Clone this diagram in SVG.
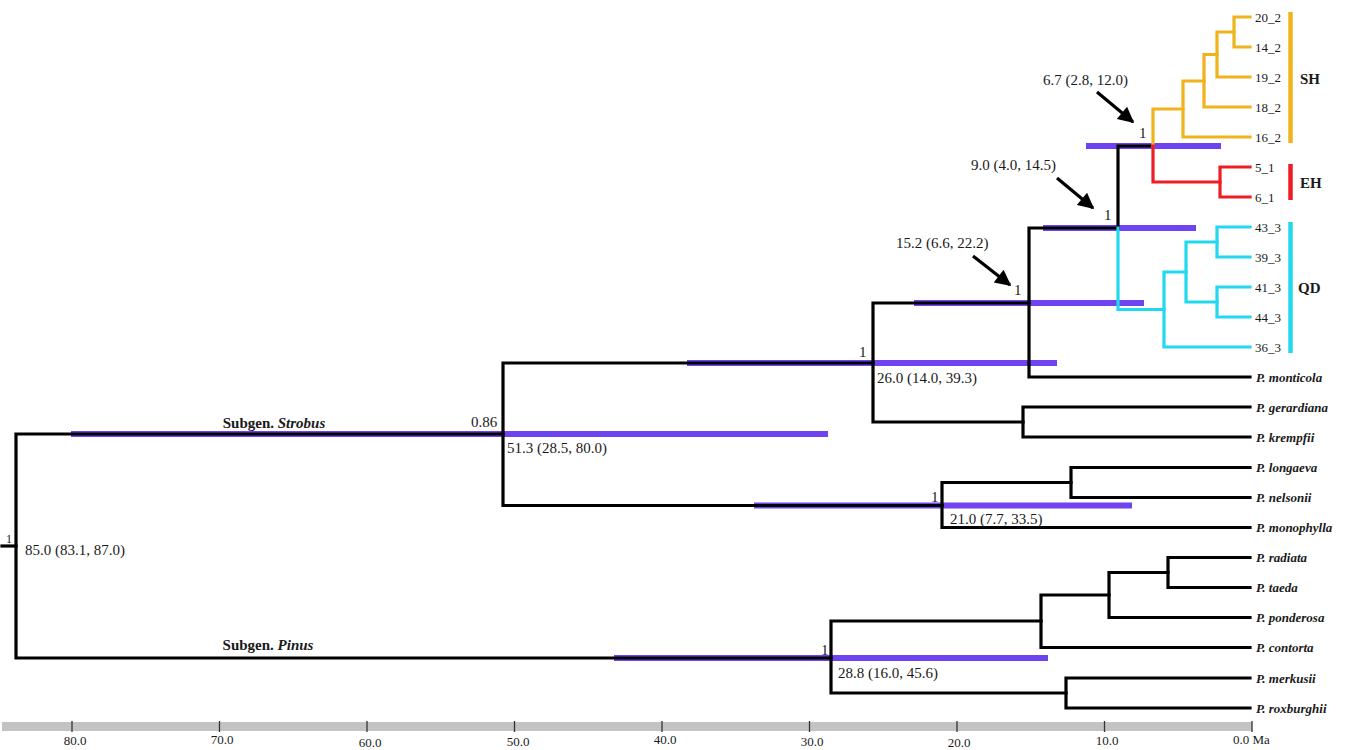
<svg xmlns="http://www.w3.org/2000/svg" width="1347" height="750" viewBox="0 0 1347 750">
<style>
text{font-family:"Liberation Serif","Times New Roman",serif;fill:#1a1a1a}
.lbl{font-size:15px}
.tip{font-size:13px}
.sp{font-size:13px;font-weight:bold;font-style:italic}
.clade{font-size:15px;font-weight:bold}
.ax{font-size:13px;text-anchor:middle}
.br{fill:none;stroke-width:3.2;stroke-linejoin:miter;stroke-linecap:square}
.k{stroke:#000}
.y{stroke:#f0b31c}
.r{stroke:#ee1d25}
.c{stroke:#22d8ee}
.bar{stroke:#6e44f0;stroke-width:6;fill:none;stroke-linecap:butt}
.arr{stroke:#000;stroke-width:3.2;fill:none;marker-end:url(#ah)}
</style>
<defs>
<marker id="ah" viewBox="0 0 10 10" refX="9" refY="5" markerWidth="6" markerHeight="5" markerUnits="strokeWidth" orient="auto">
<path d="M0,0 L10,5 L0,10 z" fill="#000"/>
</marker>
</defs>
<rect width="1347" height="750" fill="#fff"/>

<g id="axis">
<rect x="2" y="722" width="1250" height="9" fill="#c3c3c3"/>
<g stroke="#333" stroke-width="1.3">
<line x1="72" y1="721" x2="72" y2="732"/>
<line x1="219.5" y1="721" x2="219.5" y2="732"/>
<line x1="367" y1="721" x2="367" y2="732"/>
<line x1="514.5" y1="721" x2="514.5" y2="732"/>
<line x1="662" y1="721" x2="662" y2="732"/>
<line x1="809.5" y1="721" x2="809.5" y2="732"/>
<line x1="957" y1="721" x2="957" y2="732"/>
<line x1="1104.5" y1="721" x2="1104.5" y2="732"/>
<line x1="1252" y1="721" x2="1252" y2="732"/>
</g>
<text class="ax" x="75" y="745">80.0</text>
<text class="ax" x="222" y="743.5">70.0</text>
<text class="ax" x="370" y="747">60.0</text>
<text class="ax" x="518" y="746">50.0</text>
<text class="ax" x="665" y="744">40.0</text>
<text class="ax" x="812" y="746">30.0</text>
<text class="ax" x="959" y="747">20.0</text>
<text class="ax" x="1107" y="745">10.0</text>
<text x="1233" y="744" style="font-size:13px">0.0 Ma</text>
</g>

<g id="hpd-bars">
<line class="bar" x1="71" y1="434" x2="828" y2="434"/>
<line class="bar" x1="687" y1="363" x2="1057" y2="363"/>
<line class="bar" x1="914" y1="303" x2="1144" y2="303"/>
<line class="bar" x1="1043" y1="228" x2="1196" y2="228"/>
<line class="bar" x1="1086" y1="146" x2="1221" y2="146"/>
<line class="bar" x1="754" y1="505.5" x2="1132" y2="505.5"/>
<line class="bar" x1="614" y1="658" x2="1048" y2="658"/>
</g>

<g id="connectors">
<path class="br k" d="M2,546 H16"/>
<path class="br k" d="M503,434 H16 V658 H831"/>
<path class="br k" d="M873,363 H503 V505.5 H942"/>
<path class="br k" d="M1029,303 H873 V422 H1023"/>
<path class="br k" d="M1250,407 H1023 V437 H1250"/>
<path class="br k" d="M1118,228 H1029 V377 H1250"/>
<path class="br k" d="M1153,146 H1118 V228"/>
<path class="br k" d="M1071,482.5 H942 V527.5 H1250"/>
<path class="br k" d="M1250,467.5 H1071 V497.5 H1250"/>
<path class="br k" d="M1041,621 H831 V693 H1066"/>
<path class="br k" d="M1109,595 H1041 V647.5 H1250"/>
<path class="br k" d="M1168,572.5 H1109 V617.5 H1250"/>
<path class="br k" d="M1250,557.5 H1168 V587.5 H1250"/>
<path class="br k" d="M1250,678 H1066 V708 H1250"/>
<path class="br y" d="M1153,146 V109 H1183"/>
<path class="br y" d="M1204,81 H1183 V137 H1250"/>
<path class="br y" d="M1217,54.5 H1204 V107 H1250"/>
<path class="br y" d="M1234,32 H1217 V77 H1250"/>
<path class="br y" d="M1250,17 H1234 V47 H1250"/>
<path class="br r" d="M1153,146 V182 H1220"/>
<path class="br r" d="M1250,167 H1220 V197 H1250"/>
<path class="br c" d="M1118,228 V309.5 H1164"/>
<path class="br c" d="M1186,272 H1164 V347 H1250"/>
<path class="br c" d="M1217,242 H1186 V302 H1217"/>
<path class="br c" d="M1250,227 H1217 V257 H1250"/>
<path class="br c" d="M1250,287 H1217 V317 H1250"/>
</g>

<g id="arrows">
<line class="arr" x1="1097" y1="92" x2="1133" y2="122"/>
<line class="arr" x1="1057" y1="178" x2="1093" y2="208"/>
<line class="arr" x1="973" y1="256" x2="1010" y2="285"/>
</g>

<g id="node-labels">
<text class="lbl" x="1139" y="138">1</text>
<text class="lbl" x="1104" y="220">1</text>
<text class="lbl" x="1014" y="295">1</text>
<text class="lbl" x="859" y="357">1</text>
<text class="lbl" x="931" y="502">1</text>
<text class="lbl" x="821" y="655">1</text>
<text class="lbl" x="471" y="427">0.86</text>
<text x="6" y="543" style="font-size:12px">1</text>
<text class="lbl" x="1043" y="85">6.7 (2.8, 12.0)</text>
<text class="lbl" x="971" y="170">9.0 (4.0, 14.5)</text>
<text class="lbl" x="896" y="248">15.2 (6.6, 22.2)</text>
<text class="lbl" x="877" y="383">26.0 (14.0, 39.3)</text>
<text class="lbl" x="507" y="453">51.3 (28.5, 80.0)</text>
<text class="lbl" x="950" y="524">21.0 (7.7, 33.5)</text>
<text class="lbl" x="838" y="678">28.8 (16.0, 45.6)</text>
<text class="lbl" x="25" y="555">85.0 (83.1, 87.0)</text>
<text class="clade" x="274" y="428" text-anchor="middle">Subgen. <tspan font-style="italic">Strobus</tspan></text>
<text class="clade" x="268" y="650" text-anchor="middle">Subgen. <tspan font-style="italic">Pinus</tspan></text>
</g>

<g id="tips">
<text class="tip" x="1255" y="21.5">20_2</text>
<text class="tip" x="1255" y="51.5">14_2</text>
<text class="tip" x="1255" y="81.5">19_2</text>
<text class="tip" x="1255" y="111.5">18_2</text>
<text class="tip" x="1255" y="141.5">16_2</text>
<text class="tip" x="1255" y="171.5">5_1</text>
<text class="tip" x="1255" y="201.5">6_1</text>
<text class="tip" x="1255" y="231.5">43_3</text>
<text class="tip" x="1255" y="261.5">39_3</text>
<text class="tip" x="1255" y="291.5">41_3</text>
<text class="tip" x="1255" y="321.5">44_3</text>
<text class="tip" x="1255" y="351.5">36_3</text>
<text class="sp" x="1256" y="381.5">P. monticola</text>
<text class="sp" x="1256" y="411.5">P. gerardiana</text>
<text class="sp" x="1256" y="441.5">P. krempfii</text>
<text class="sp" x="1256" y="472">P. longaeva</text>
<text class="sp" x="1256" y="502">P. nelsonii</text>
<text class="sp" x="1256" y="532">P. monophylla</text>
<text class="sp" x="1256" y="562">P. radiata</text>
<text class="sp" x="1256" y="592">P. taeda</text>
<text class="sp" x="1256" y="622">P. ponderosa</text>
<text class="sp" x="1256" y="652">P. contorta</text>
<text class="sp" x="1256" y="682.5">P. merkusii</text>
<text class="sp" x="1256" y="712.5">P. roxburghii</text>
</g>

<g id="clade-SH">
<line x1="1290.5" y1="12" x2="1290.5" y2="143" stroke="#f0b31c" stroke-width="4.5"/>
<text class="clade" x="1300" y="84">SH</text>
</g>
<g id="clade-EH">
<line x1="1290.5" y1="164" x2="1290.5" y2="200" stroke="#ee1d25" stroke-width="4.5"/>
<text class="clade" x="1300" y="187.5">EH</text>
</g>
<g id="clade-QD">
<line x1="1290.5" y1="222" x2="1290.5" y2="353" stroke="#22d8ee" stroke-width="4.5"/>
<text class="clade" x="1298" y="293">QD</text>
</g>
</svg>
